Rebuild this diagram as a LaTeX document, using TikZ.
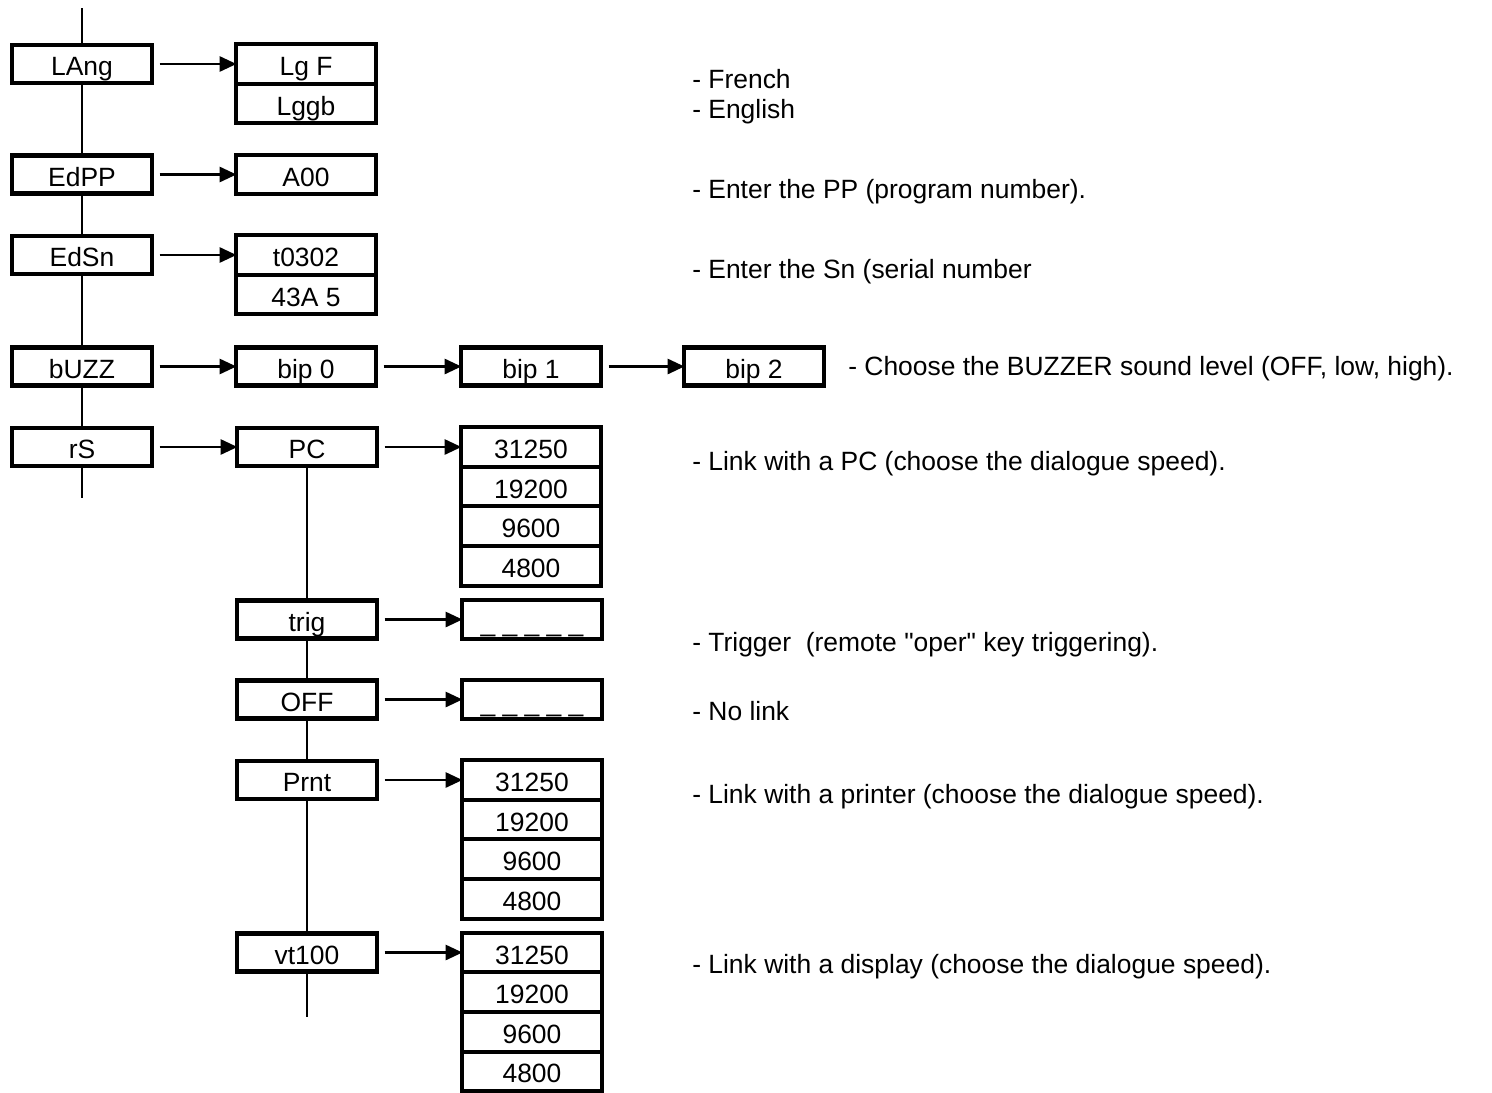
\documentclass[tikz,border=0pt]{standalone}
\usepackage{fontspec}
\setmainfont{Liberation Sans}[Ligatures=TeXOff]
\usetikzlibrary{arrows.meta,positioning}
\tikzset{
  menubox/.style={
    draw=black,
    line width=2.9pt,
    minimum width=3.48cm,
    minimum height=0.95cm,
    inner sep=0pt,
    outer sep=0pt,
    text height=16.5pt,
    text depth=0pt,
    font=\fontsize{18.8}{22}\selectfont
  },
  valbox/.style={
    menubox,
    minimum height=0.99cm
  },
  link/.style={
    line width=1.4pt
  },
  arr/.style={
    line width=1.6pt,
    shorten <=0.2cm,
    -{Triangle[length=0.42cm,width=0.38cm]}
  },
  note/.style={
    anchor=base west,
    inner sep=0pt,
    font=\fontsize{18.8}{22}\selectfont
  }
}
\newcommand{\speedstack}[2]{%
  \node[valbox] (#1a) at #2 {31250};
  \node[valbox, below=0pt of #1a] (#1b) {19200};
  \node[valbox, below=0pt of #1b] (#1c) {9600};
  \node[valbox, below=0pt of #1c] (#1d) {4800};
}

\begin{document}
\begin{tikzpicture}[x=0.025cm, y=-0.025cm]
  \useasboundingbox (0,0) rectangle (1492,1092);

  % --- main menu column ---
  \coordinate (mtop) at (82,8);
  \node[menubox] (lang) at (82,64) {LAng};
  \node[menubox] (edpp) at (82,174.5) {EdPP};
  \node[menubox] (edsn) at (82,255) {EdSn};
  \node[menubox] (buzz) at (82,366.5) {bUZZ};
  \node[menubox] (rs) at (82,447) {rS};
  \coordinate (mbot) at (82,498);

  \draw[link] (mtop) -- (lang.north);
  \draw[link] (lang.south) -- (edpp.north);
  \draw[link] (edpp.south) -- (edsn.north);
  \draw[link] (edsn.south) -- (buzz.north);
  \draw[link] (buzz.south) -- (rs.north);
  \draw[link] (rs.south) -- (mbot);

  % --- language ---
  \node[valbox] (lgf) at (306,64) {Lg F};
  \node[valbox, below=0pt of lgf] (lggb) {Lggb};
  \draw[arr] (lang.east) -- (lgf.west);

  % --- program and serial number ---
  \node[valbox] (a00) at (306,174.5) {A00};
  \draw[arr] (edpp.east) -- (a00.west);
  \node[valbox] (sn1) at (306,255) {t0302};
  \node[valbox, below=0pt of sn1] (sn2) {43A 5};
  \draw[arr] (edsn.east) -- (sn1.west);

  % --- buzzer ---
  \node[menubox] (bip0) at (306,366.5) {bip 0};
  \node[menubox] (bip1) at (531,366.5) {bip 1};
  \node[menubox] (bip2) at (754,366.5) {bip 2};
  \draw[arr] (buzz.east) -- (bip0.west);
  \draw[arr] (bip0.east) -- (bip1.west);
  \draw[arr] (bip1.east) -- (bip2.west);

  % --- serial link sub-menu ---
  \node[menubox] (pc) at (307,447) {PC};
  \node[menubox] (trig) at (307,619.5) {trig};
  \node[menubox] (off) at (307,699.5) {OFF};
  \node[menubox] (prnt) at (307,780) {Prnt};
  \node[menubox] (vt) at (307,952.5) {vt100};
  \coordinate (sbot) at (307,1017);
  \draw[arr] (rs.east) -- (pc.west);

  \draw[link] (pc.south) -- (trig.north);
  \draw[link] (trig.south) -- (off.north);
  \draw[link] (off.south) -- (prnt.north);
  \draw[link] (prnt.south) -- (vt.north);
  \draw[link] (vt.south) -- (sbot);

  \speedstack{pcs}{(531,447)}
  \node[valbox] (trigv) at (532,619.5) {\_ \_ \_ \_ \_};
  \node[valbox] (offv) at (532,699.5) {\_ \_ \_ \_ \_};
  \speedstack{prs}{(532,780)}
  \speedstack{vts}{(532,952.5)}

  \draw[arr] (pc.east) -- (pcsa.west);
  \draw[arr] (trig.east) -- (trigv.west);
  \draw[arr] (off.east) -- (offv.west);
  \draw[arr] (prnt.east) -- (prsa.west);
  \draw[arr] (vt.east) -- (vtsa.west);

  % --- comments ---
  \node[note] (nfr) at (692,88) {- French};
  \node[note] (nen) at (692,118) {- English};
  \node[note] (npp) at (692,198) {- Enter the PP (program number).};
  \node[note] (nsn) at (692,278) {- Enter the Sn (serial number};
  \node[note] (nbz) at (848,375) {- Choose the BUZZER sound level (OFF, low, high).};
  \node[note] (npc) at (692,470) {- Link with a PC (choose the dialogue speed).};
  \node[note] (ntr) at (692,651) {- Trigger\ \ (remote "oper" key triggering).};
  \node[note] (nof) at (692,720) {- No link};
  \node[note] (npr) at (692,803) {- Link with a printer (choose the dialogue speed).};
  \node[note] (nvt) at (692,973) {- Link with a display (choose the dialogue speed).};
\end{tikzpicture}
\end{document}
